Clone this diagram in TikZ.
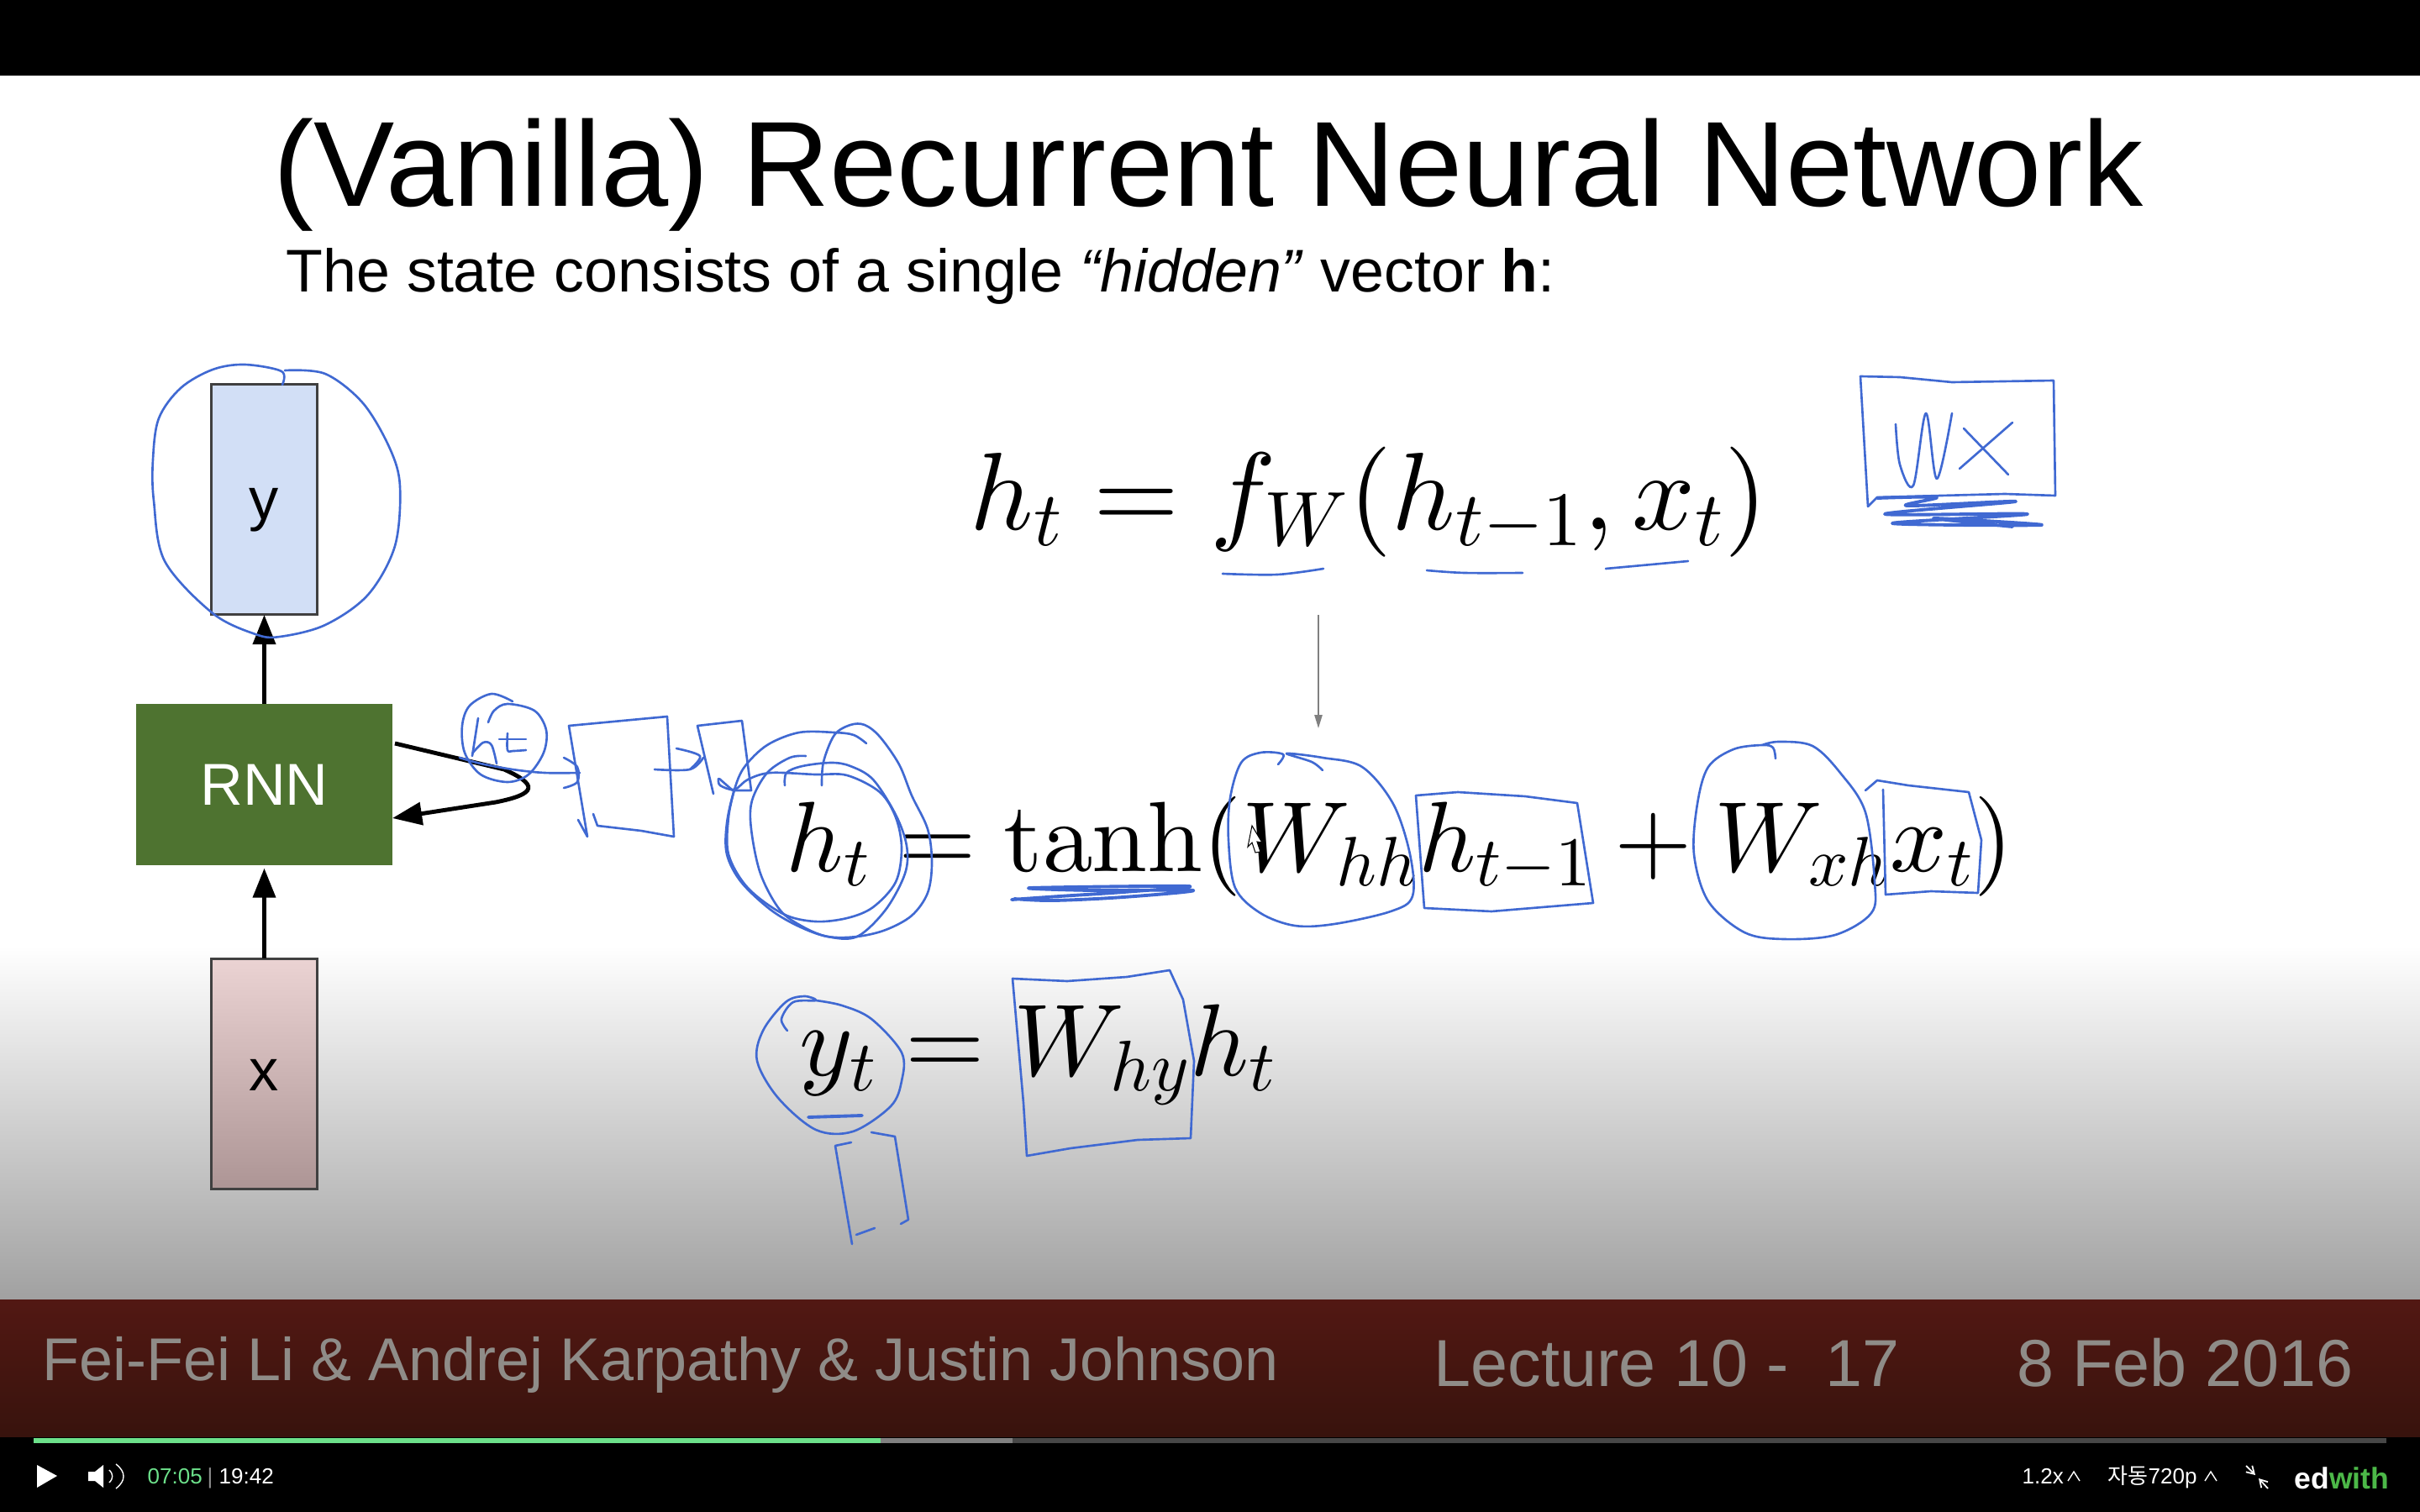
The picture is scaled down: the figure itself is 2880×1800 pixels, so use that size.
\documentclass[tikz,border=0pt]{standalone}
\usepackage[no-math]{fontspec}
\usepackage{xcolor}
\usetikzlibrary{arrows.meta,positioning}
\newfontfamily\slidefont{Liberation Sans}
\newfontfamily\korfont{Noto Sans CJK KR}
\DeclareFontShape{OT1}{cmr}{m}{n}{<->cmr10}{}
\DeclareFontShape{OML}{cmm}{m}{it}{<->cmmi10}{\skewchar\font=127}
\DeclareFontShape{OMS}{cmsy}{m}{n}{<->cmsy10}{\skewchar\font=48}
\definecolor{penblue}{HTML}{4069D2}
\definecolor{rnngreen}{HTML}{4E7330}
\definecolor{outblue}{HTML}{D2DFF6}
\definecolor{footred}{HTML}{521813}
\definecolor{footdark}{HTML}{38130D}
\definecolor{footgray}{HTML}{8F8C88}
\definecolor{playgreen}{HTML}{6CE08A}
\definecolor{logogreen}{HTML}{4CB848}
\definecolor{inpink}{HTML}{EBD3D3}
\definecolor{indusk}{HTML}{AD9595}
\tikzset{
  headline/.style={
    anchor=base west,
    inner sep=0pt,
    font={\slidefont\fontsize{41}{45}\selectfont}
  },
  subline/.style={
    headline,
    font={\slidefont\fontsize{20.4}{24}\selectfont}
  },
  footline/.style={
    headline,
    text=footgray,
    font={\slidefont\fontsize{20.45}{26}\selectfont}
  },
  footright/.style={
    footline,
    font={\slidefont\fontsize{22.5}{26}\selectfont}
  },
  formula/.style={
    anchor=base west,
    inner sep=0pt,
    font={\fontsize{33.8}{42}\selectfont}
  },
  layerbox/.style={
    draw=black!75,
    line width=0.8pt,
    minimum width=1.26cm,
    minimum height=2.74cm,
    outer sep=0pt,
    inner sep=0pt,
    text depth=0pt,
    font={\slidefont\fontsize{20}{24}\selectfont}
  },
  rnnbox/.style={
    fill=rnngreen,
    text=white,
    minimum width=3.05cm,
    minimum height=1.92cm,
    outer sep=0pt,
    inner sep=0pt,
    font={\slidefont\fontsize{20}{24}\selectfont}
  },
  flowarrow/.style={
    -{Triangle[length=10pt,width=7.6pt]},
    line width=1.4pt,
    draw=black
  },
  grayarrow/.style={
    -{Triangle[length=4.5pt,width=2.6pt]},
    line width=0.5pt,
    draw=black!50
  },
  penstroke/.style={
    draw=penblue,
    line width=0.75pt,
    line cap=round,
    line join=round
  },
  pencurve/.style={
    penstroke,
    smooth,
    tension=0.55
  },
  penheavy/.style={
    pencurve,
    line width=1.1pt
  },
  playerlabel/.style={
    anchor=base west,
    inner sep=0pt,
    text=white,
    font={\slidefont\fontsize{7.4}{9}\selectfont}
  }
}

\begin{document}
\begin{tikzpicture}[x=0.01cm,y=-0.01cm]
    \useasboundingbox (0,0) rectangle (2880,1800);
    \fill[black] (0,0) rectangle (2880,1800);
    \fill[white] (0,90) rectangle (2880,1126);
    \shade[top color=white,bottom color=black!37] (0,1125) rectangle (2880,1547);
    \shade[top color=footred,bottom color=footdark] (0,1547) rectangle (2880,1710);

    \node[headline] (title) at (325,246) {(Vanilla) Recurrent Neural Network};
    \node[subline] (subtitle) at (340,348) {The state consists of a single \textit{“hidden”} vector \textbf{h}:};

    \node[rnnbox] (rnn) at (314.5,934) {RNN};
    \node[layerbox, fill=outblue, text height=0.48cm, above=1.06cm of rnn] (yvec) {y};
    \node[layerbox, top color=inpink, bottom color=indusk, text height=0.4cm, below=1.11cm of rnn] (xvec) {x};

    \draw[flowarrow] (rnn) -- (yvec);
    \draw[flowarrow, shorten >=1pt] (xvec) -- (rnn);
    \coordinate (loopout) at (470,885);
    \coordinate (loopin) at (467,974);
    \draw[flowarrow] (loopout) -- (600,916) .. controls (640,934) and (640,945) .. (590,955) -- (loopin);

    \node[formula, font={\fontsize{37.3}{42}\selectfont}] (stepeq) at (1154,630) {$h_t = f_W(h_{t-1},x_t)$};
    \node[formula] (hiddeneq) at (935,1037) {$h_t = \mathrm{tanh}(W_{hh}h_{t-1} + W_{xh}x_t)$};
    \node[formula, font={\fontsize{34.6}{42}\selectfont}] (outputeq) at (951,1280) {$y_t = W_{hy}h_t$};
    \coordinate (fdown) at (1569,732);
    \coordinate (tanhup) at (1569,867);
    \draw[grayarrow] (fdown) -- (tanhup);

    \draw[pencurve] plot coordinates {(336,458) (335,442) (291,434) (253,440) (215,462) (189,498) (182,547) (183,596) (196,668) (253,730) (304,755) (333,758) (387,744) (438,708) (470,650) (476,579) (464,534) (432,480) (387,445) (339,441)};

    \draw[pencurve] plot coordinates {(610,835) (585,826) (559,840) (550,864) (553,896) (572,922) (604,931) (629,922) (647,896) (650,869) (636,846) (604,838) (588,846) (581,860)};
    \draw[penstroke] (569,855) -- (562,900);
    \draw[pencurve] plot coordinates {(562,897) (575,884) (585,887) (591,909)};
    \draw[pencurve] plot coordinates {(604,873) (604,893) (611,894) (626,893)};
    \draw[penstroke] (594,880) -- (626,880);
    \draw[pencurve] plot coordinates {(547,902) (572,909) (610,916) (648,920) (690,920)};
    \draw[pencurve] plot coordinates {(671,902) (687,913) (687,931) (671,938)};
    \draw[penstroke] (706,969) -- (711,983) -- (763,989) -- (802,996) -- (794,853) -- (677,864) -- (699,996) -- (688,976);
    \draw[pencurve] plot coordinates {(779,916) (821,916) (837,902)};
    \draw[pencurve] plot coordinates {(805,891) (833,900) (821,916)};
    \draw[penstroke] (849,945) -- (830,864) -- (883,858) -- (894,941) -- (872,941) -- (856,927);

    \draw[pencurve] plot coordinates {(978,935) (980,907) (993,875) (1012,863) (1029,863) (1047,877) (1070,910) (1085,947) (1104,987) (1109,1027) (1104,1063) (1085,1090) (1054,1107) (1020,1115) (985,1115) (951,1103) (917,1083) (882,1050) (865,1017) (865,980) (874,940) (886,913) (913,887) (951,872) (993,872) (1016,875) (1031,885)};
    \draw[pencurve] plot coordinates {(959,900) (940,902) (913,920) (895,953) (894,987) (905,1040) (928,1083) (955,1103) (985,1115) (1020,1115) (1054,1083) (1077,1040) (1079,1007) (1066,970) (1039,928) (1012,912) (989,908) (955,912) (936,920) (934,935)};
    \draw[pencurve] plot coordinates {(855,927) (857,935) (874,940) (890,928) (917,920) (970,922) (1008,923) (1047,943) (1066,973) (1073,1010) (1066,1050) (1039,1080) (1008,1093) (970,1097) (932,1088) (890,1057) (867,1017) (867,973) (874,940)};
    \draw[penheavy] plot coordinates {(1204,1071) (1261,1067) (1337,1062) (1414,1055) (1227,1057) (1299,1060) (1420,1060) (1337,1068) (1253,1072) (1207,1070)};

    \draw[pencurve] plot coordinates {(1521,910) (1527,898) (1500,896) (1477,908) (1464,950) (1462,1000) (1470,1057) (1500,1087) (1541,1102) (1588,1100) (1655,1085) (1681,1067) (1678,1017) (1658,957) (1621,913) (1574,902) (1531,897) (1561,907) (1574,917)};
    \draw[penstroke] (1685,947) -- (1735,943) -- (1815,948) -- (1877,956) -- (1896,1075) -- (1775,1085) -- (1695,1081) -- cycle;
    \draw[pencurve] plot coordinates {(2113,903) (2110,890) (2097,887) (2063,892) (2033,913) (2020,957) (2016,1017) (2033,1073) (2076,1110) (2123,1118) (2184,1113) (2227,1087) (2231,1050) (2220,967) (2190,920) (2157,888) (2117,883) (2097,887)};
    \draw[penstroke] (2220,941) -- (2234,929) -- (2271,935) -- (2343,943) -- (2358,1000) -- (2354,1063) -- (2298,1061) -- (2244,1065) -- (2241,940);
    \fill[white,draw=black,line width=0.3pt] (1490,983) -- (1502,1003) -- (1496,1002) -- (1500,1014) -- (1494,1015) -- (1490,1003) -- (1485,1008) -- cycle;

    \draw[pencurve] plot coordinates {(937,1227) (930,1213) (944,1193) (971,1191) (957,1186) (935,1193) (908,1227) (901,1263) (926,1307) (971,1345) (1015,1347) (1060,1317) (1073,1287) (1073,1253) (1037,1213) (1002,1197) (971,1191)};
    \draw[penheavy] (962,1330) -- (1026,1328);
    \draw[penstroke] (1013,1360) -- (994,1364) -- (1014,1481);
    \draw[penstroke] (1019,1470) -- (1041,1462);
    \draw[penstroke] (1037,1348) -- (1065,1353) -- (1081,1452) -- (1072,1457);
    \draw[penstroke] (1205,1165) -- (1270,1168) -- (1341,1163) -- (1392,1155) -- (1408,1190) -- (1421,1263) -- (1417,1355) -- (1354,1357) -- (1274,1367) -- (1222,1376) -- (1218,1313) -- cycle;

    \draw[pencurve] plot coordinates {(1455,683) (1520,684) (1575,677)};
    \draw[pencurve] plot coordinates {(1698,679) (1743,682) (1812,682)};
    \draw[penstroke] (1911,677) -- (2009,668);
    \draw[penstroke] (2214,448) -- (2261,449) -- (2323,455) -- (2444,453) -- (2446,590) -- (2386,588) -- (2234,592) -- (2223,603) -- cycle;
    \draw[pencurve] plot coordinates {(2256,505) (2261,553) (2277,578) (2292,492) (2305,570) (2323,492)};
    \draw[penstroke] (2332,558) -- (2395,503);
    \draw[penstroke] (2337,510) -- (2390,565);
    \draw[penheavy] plot coordinates {(2234,593) (2305,592) (2270,602) (2399,597) (2243,612) (2413,612) (2252,623) (2430,625) (2301,617) (2395,627)};

    \node[footline] (authors) at (50,1643) {Fei-Fei Li \& Andrej Karpathy \& Justin Johnson};
    \node[footright] (lecture) at (1706,1650) {Lecture 10 -\ \ 17};
    \node[footright] (datelabel) at (2400,1650) {8 Feb 2016};

    \fill[black!50] (40,1712) rectangle (1205,1718);
    \fill[black!72] (1205,1712) rectangle (2840,1718);
    \fill[playgreen] (40,1712) rectangle (1048,1718);

    \fill[white] (44,1744) -- (68,1757) -- (44,1771) -- cycle;
    \fill[white] (105,1752) -- (113,1752) -- (123,1744) -- (123,1771) -- (113,1763) -- (105,1763) -- cycle;
    \draw[white,line width=0.4pt] (130,1750) .. controls (135,1755) and (135,1760) .. (130,1765);
    \draw[white,line width=0.4pt] (138,1743) .. controls (150,1752) and (150,1763) .. (138,1772);
    \node[playerlabel, text=playgreen] (elapsed) at (175,1766) {07:05};
    \node[playerlabel, text=black!45] (timebar) at (246,1766) {|};
    \node[playerlabel] (total) at (260,1766) {19:42};
    \node[playerlabel] (speed) at (2406,1766) {1.2x};
    \draw[white,line width=0.4pt] (2461,1763) -- (2468,1752) -- (2475,1763);
    \node[playerlabel, font={\korfont\fontsize{7.4}{9}\selectfont}] (quality) at (2508,1766) {자동};
    \node[playerlabel] (qualityp) at (2556,1766) {720p};
    \draw[white,line width=0.4pt] (2624,1763) -- (2631,1752) -- (2638,1763);
    \draw[white,line width=0.5pt,-{Straight Barb[length=2.5pt,width=3pt]}] (2673,1745) -- (2684,1756);
    \draw[white,line width=0.5pt,-{Straight Barb[length=2.5pt,width=3pt]}] (2699,1772) -- (2688,1760);
    \node[playerlabel, font={\slidefont\bfseries\fontsize{10.1}{13}\selectfont}] (edlogo) at (2730,1772) {ed\textcolor{logogreen}{with}};
\end{tikzpicture}
\end{document}
